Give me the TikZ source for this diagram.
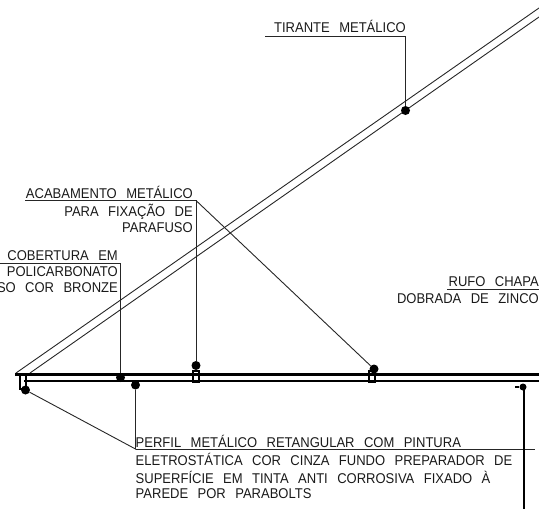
\documentclass[tikz,border=0pt]{standalone}
\usepackage{fontspec}
\setmainfont[WordSpace=2.6,FakeStretch=0.92]{Liberation Sans}
\begin{document}
\begin{tikzpicture}[x=1pt, y=-1pt]
    % Estilos
    \tikzstyle{ponto}=[circle, fill=black, inner sep=0pt, minimum size=9pt]
    \tikzstyle{chama}=[line width=0.9pt, black!85]
    \tikzstyle{telha}=[line width=0.9pt, black!85]
    \tikzstyle{textodir}=[anchor=base east, inner sep=0pt, font=\fontsize{14.15}{16}\selectfont, text=black!90]
    \tikzstyle{textoesq}=[anchor=base west, inner sep=0pt, font=\fontsize{14.15}{16}\selectfont, text=black!90]
    \tikzstyle{grampo}=[draw=black, line width=2.2pt, inner sep=0pt, minimum width=5.5pt, minimum height=11pt]
    \clip (0,0) rectangle (539,509);
    \useasboundingbox (0,0) rectangle (539,509);
    % Cobertura inclinada
    \coordinate (beiral) at (16,373);
    \coordinate (beiralb) at (30,373);
    \coordinate (topo) at (539,8);
    \coordinate (topob) at (539,17);
    \draw[telha] (beiral) -- (topo);
    \draw[telha] (beiralb) -- (topob);
    % Perfil de ponta e grampos
    \node[grampo, minimum height=14pt] (ponta) at (23,382) {};
    \node[grampo] (grampoa) at (196,376.5) {};
    \node[grampo] (grampob) at (372,376.5) {};
    % Perfil horizontal
    \coordinate (perfe) at (15,374.5);
    \coordinate (perfd) at (539,374.5);
    \coordinate (basee) at (24,381);
    \coordinate (based) at (539,381);
    \draw[line width=3.6pt] (perfe) -- (perfd);
    \draw[line width=1.2pt] (basee) -- (based);
    % Pontos
    \node[ponto] (ptirante) at (405.5,110.5) {};
    \node[ponto] (pacaba) at (196,365.5) {};
    \node[ponto] (pacabb) at (374,369) {};
    \node[ponto] (pcobert) at (120.5,377.5) {};
    \node[ponto] (pperfa) at (25.5,390) {};
    \node[ponto] (pperfb) at (135.5,385) {};
    \node[ponto, minimum size=7pt] (ppared) at (523,387) {};
    % Chamadas
    \coordinate (ta) at (265,36);
    \coordinate (tb) at (405.5,36);
    \draw[chama] (ta) -- (tb) -- (ptirante);
    \coordinate (aa) at (25,200.5);
    \coordinate (ab) at (196,200.5);
    \draw[chama] (aa) -- (ab) -- (pacaba);
    \draw[chama] (ab) -- (pacabb);
    \coordinate (ca) at (0,263.5);
    \coordinate (cb) at (120.5,263.5);
    \draw[chama] (ca) -- (cb) -- (pcobert);
    \coordinate (ra) at (447,289);
    \coordinate (rb) at (539,289);
    \draw[chama] (ra) -- (rb);
    \coordinate (pa) at (135.5,449);
    \coordinate (pb) at (535,449);
    \draw[chama] (pperfa) -- (pa) -- (pperfb);
    \draw[chama] (pa) -- (pb);
    % Parede
    \coordinate (pini) at (524,387);
    \coordinate (pfim) at (524,509);
    \coordinate (pbico) at (515,387);
    \draw[line width=1.8pt] (pini) -- (pfim);
    \draw[line width=1.2pt] (pbico) -- (ppared);
    % Textos
    \node[textodir] (ttirante) at (406,32) {TIRANTE METÁLICO};
    \node[textodir] (tacaba) at (193,198) {ACABAMENTO METÁLICO};
    \node[textodir] (tfixa) at (193,216) {PARA FIXAÇÃO DE};
    \node[textodir] (tparaf) at (193,232) {PARAFUSO};
    \node[textodir] (tcoba) at (118,260) {COBERTURA EM};
    \node[textodir] (tcobb) at (118,276) {POLICARBONATO};
    \node[textodir] (tcobc) at (118,292) {SO COR BRONZE};
    \node[textodir] (trufoa) at (539,286) {RUFO CHAPA};
    \node[textodir] (trufob) at (539,303) {DOBRADA DE ZINCO};
    \node[textoesq] (tperfa) at (135.5,447) {PERFIL METÁLICO RETANGULAR COM PINTURA};
    \node[textoesq] (tperfb) at (135.5,465) {ELETROSTÁTICA COR CINZA FUNDO PREPARADOR DE};
    \node[textoesq] (tperfc) at (135.5,483) {SUPERFÍCIE EM TINTA ANTI CORROSIVA FIXADO À};
    \node[textoesq] (tperfd) at (135.5,498) {PAREDE POR PARABOLTS};
\end{tikzpicture}
\end{document}
